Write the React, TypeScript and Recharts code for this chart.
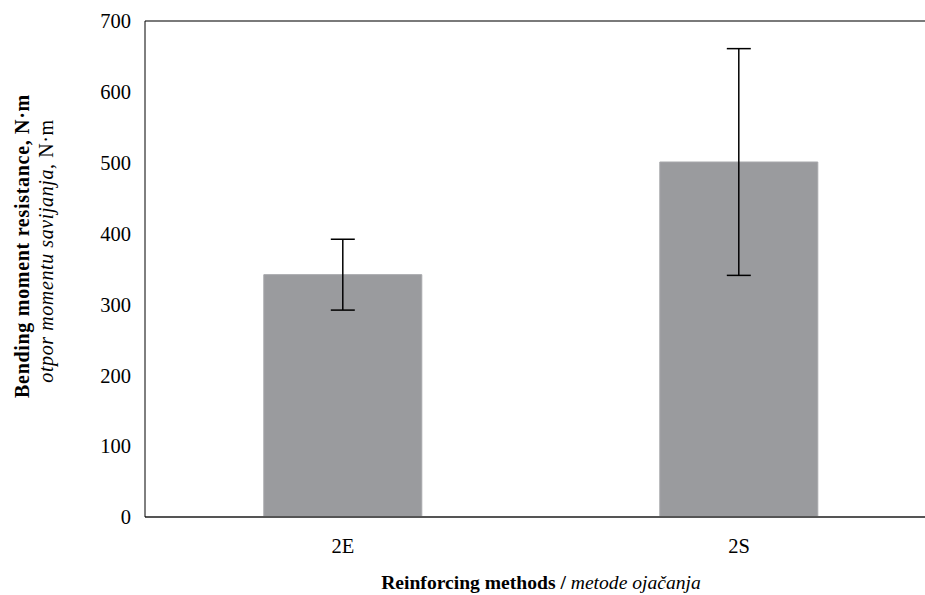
import { Bar, BarChart, ErrorBar, ReferenceLine, XAxis, YAxis } from 'recharts'

const methods = ['2E', '2S']
const resistance = [342, 501]
const deviation = [50, 160]
const yTicks = [0, 100, 200, 300, 400, 500, 600, 700]

const data = methods.map((m, i) => ({ method: m, value: resistance[i], err: deviation[i] }))

const serif = 'Liberation Serif, Times New Roman, serif'

const YTitle = () => (
  <g fontFamily={serif} fontSize={20} fill="#000">
    <text x={22} y={246} transform="rotate(-90, 22, 246)" textAnchor="middle" dominantBaseline="central" fontWeight="bold" letterSpacing={0.7}>
      Bending moment resistance, N·m
    </text>
    <text x={46} y={251} transform="rotate(-90, 46, 251)" textAnchor="middle" dominantBaseline="central" letterSpacing={0.6}>
      <tspan fontStyle="italic">otpor momentu savijanja,</tspan> N·m
    </text>
  </g>
)

const XTitle = ({ viewBox }: any) => {
  const cx = viewBox.x + viewBox.width / 2
  return (
    <text x={cx} y={582} textAnchor="middle" dominantBaseline="central" fontFamily={serif} fontSize={19.6} fill="#000">
      <tspan fontWeight="bold">Reinforcing methods / </tspan>
      <tspan fontStyle="italic">metode ojačanja</tspan>
    </text>
  )
}

export default function App() {
  return (
    <div style={{ position: 'absolute', left: 0, top: 0, width: 925, height: 595, overflow: 'hidden', background: '#fff' }}>
      <BarChart width={940} height={595} data={data} margin={{ top: 21, right: 3, left: 0, bottom: 0 }} barCategoryGap="30%">
        <XAxis
          dataKey="method"
          height={78}
          tickLine={false}
          tickMargin={15}
          axisLine={{ stroke: '#555', strokeWidth: 2 }}
          tick={{ fontSize: 20.5, fill: '#000', fontFamily: serif }}
          label={<XTitle />}
        />
        <YAxis
          width={145}
          domain={[0, 700]}
          ticks={yTicks}
          interval={0}
          tickLine={false}
          tickMargin={8}
          axisLine={{ stroke: '#000', strokeWidth: 1 }}
          tick={{ fontSize: 20.5, fill: '#000', fontFamily: serif }}
          label={<YTitle />}
        />
        <ReferenceLine y={700} stroke="#7a7a7a" strokeWidth={2} />
        <Bar dataKey="value" fill="#9a9b9e" stroke="#a7a8ab" strokeWidth={1} isAnimationActive={false}>
          <ErrorBar dataKey="err" width={12} stroke="#000" strokeWidth={1.5} isAnimationActive={false} />
        </Bar>
      </BarChart>
    </div>
  )
}
